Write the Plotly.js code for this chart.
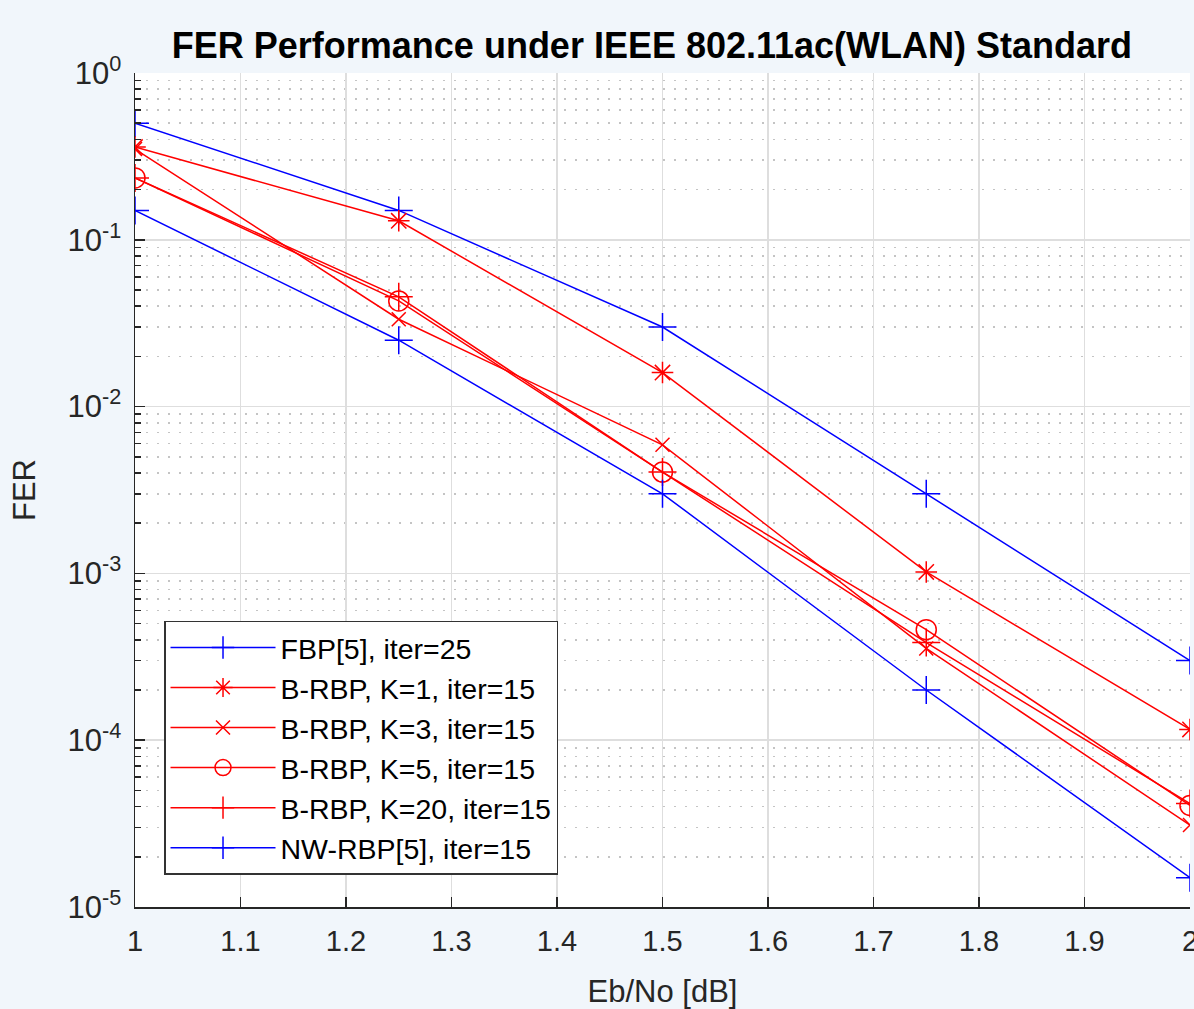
<!DOCTYPE html>
<html>
<head>
<meta charset="utf-8">
<script src="https://cdn.plot.ly/plotly-3.0.1.min.js"></script>
<style>
html,body{margin:0;padding:0;background:#f1f6fb;}
#chart{width:1194px;height:1009px;}
</style>
</head>
<body>
<div id="chart"></div>
<script>
const ebno = [1, 1.25, 1.5, 1.75, 2];
const fbp   = [0.5, 0.15, 0.030, 0.0030, 3.0e-4];
const k1    = [0.36, 0.130, 0.0160, 1.02e-3, 1.16e-4];
const k3    = [0.35, 0.0334, 0.0059, 3.55e-4, 3.1e-5];
const k5    = [0.235, 0.0430, 0.00405, 4.6e-4, 4.06e-5];
const k20   = [0.235, 0.0455, 0.00405, 3.85e-4, 4.17e-5];
const nwrbp = [0.15, 0.025, 0.0030, 2.0e-4, 1.5e-5];
const names = ["FBP[5], iter=25", "B-RBP, K=1, iter=15", "B-RBP, K=3, iter=15",
               "B-RBP, K=5, iter=15", "B-RBP, K=20, iter=15", "NW-RBP[5], iter=15"];
const xTicks = [1, 1.1, 1.2, 1.3, 1.4, 1.5, 1.6, 1.7, 1.8, 1.9, 2];
const xTickText = ["1", "1.1", "1.2", "1.3", "1.4", "1.5", "1.6", "1.7", "1.8", "1.9", "2"];
const yTicks = [1e-5, 1e-4, 1e-3, 1e-2, 1e-1, 1];
const yTickText = ["10<sup>-5</sup>", "10<sup>-4</sup>", "10<sup>-3</sup>", "10<sup>-2</sup>", "10<sup>-1</sup>", "10<sup>0</sup>"];

const yMinor = [];
for (let e = -5; e < 0; e++) for (let m = 2; m <= 9; m++) yMinor.push(m * Math.pow(10, e));

const BLUE = "#0000ff", RED = "#ff0000";
function tr(y, name, color, symbol, size) {
  return {x: ebno, y: y, name: name, type: "scatter", mode: "lines+markers",
    line: {color: color, width: 1.5},
    marker: {symbol: symbol, size: size, color: color, line: {color: color, width: 1.5}}};
}
const data = [
  tr(fbp,   names[0], BLUE, "cross-thin-open", 20),
  tr(k1,    names[1], RED,  "asterisk-open", 18),
  tr(k3,    names[2], RED,  "x-thin-open", 14),
  tr(k5,    names[3], RED,  "circle-open", 20),
  tr(k20,   names[4], RED,  "cross-thin-open", 20),
  tr(nwrbp, names[5], BLUE, "cross-thin-open", 20)
];

const layout = {
  width: 1194, height: 1009,
  paper_bgcolor: "#f1f6fb", plot_bgcolor: "#ffffff",
  margin: {l: 135, r: 4, t: 73, b: 102},
  font: {family: "Liberation Sans, Arial, sans-serif", color: "#262626", size: 28},
  title: {text: "<b>FER Performance under IEEE 802.11ac(WLAN) Standard</b>",
    font: {size: 36, color: "#000000", family: "Liberation Sans, Arial, sans-serif"},
    x: 0.49, xref: "paper", y: 0.955, yref: "container", yanchor: "middle"},
  showlegend: true,
  legend: {x: 0.0275, y: 0.343, xanchor: "left", yanchor: "top",
    bgcolor: "#ffffff", bordercolor: "#333333", borderwidth: 1.5,
    font: {size: 28.5, color: "#000000"}, tracegroupgap: 0, itemwidth: 105},
  xaxis: {range: [1, 2], tickvals: xTicks, ticktext: xTickText,
    ticks: "inside", ticklen: 10, tickcolor: "#262626", tickwidth: 1.5,
    showline: true, linecolor: "#262626", linewidth: 1.5,
    showgrid: true, gridcolor: "#dedede", gridwidth: 1.5, zeroline: false,
    tickfont: {size: 29}, ticklabeloverflow: "allow", ticklabelstandoff: 8,
    title: {text: "Eb/No [dB]", font: {size: 31}, standoff: 28}},
  yaxis: {type: "log", range: [-5, 0], tickvals: yTicks, ticktext: yTickText,
    ticks: "inside", ticklen: 10, tickcolor: "#262626", tickwidth: 1.5,
    showline: true, linecolor: "#262626", linewidth: 1.5,
    showgrid: true, gridcolor: "#dedede", gridwidth: 1.5, zeroline: false,
    tickfont: {size: 31}, ticklabelstandoff: 6,
    minor: {tickvals: yMinor, ticks: "inside", ticklen: 6, tickcolor: "#262626", tickwidth: 1.5,
      showgrid: true, gridcolor: "#c4c4c4", griddash: "2px,9px", gridwidth: 1.5},
    title: {text: "FER", font: {size: 31}, standoff: 22}}
};
Plotly.newPlot("chart", data, layout, {displayModeBar: false, staticPlot: true});
</script>
</body>
</html>
